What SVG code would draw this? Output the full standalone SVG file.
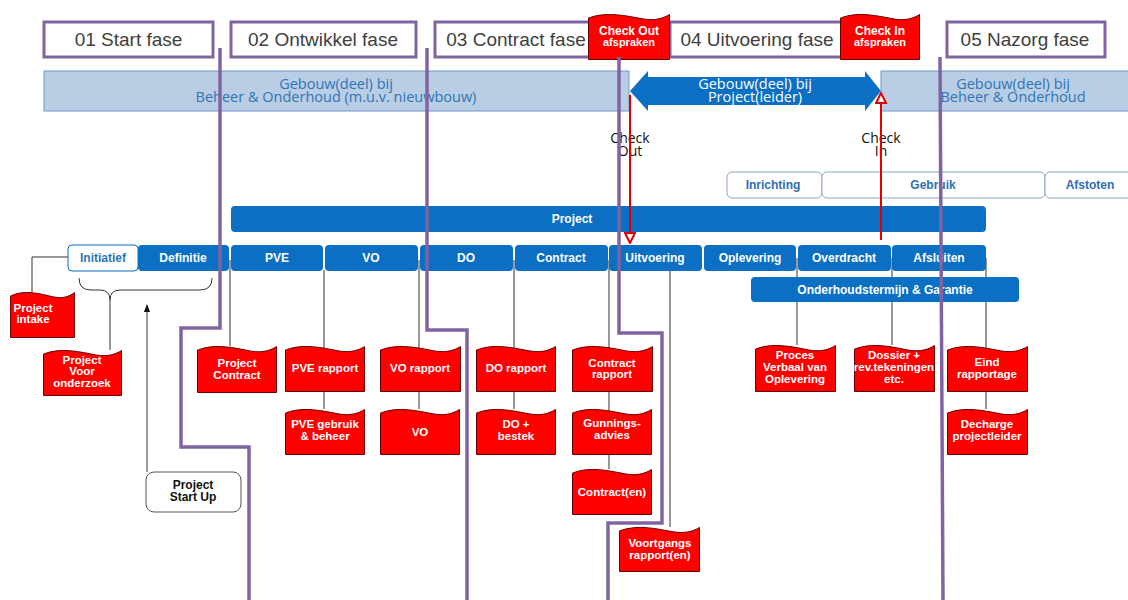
<svg xmlns="http://www.w3.org/2000/svg" xmlns:xlink="http://www.w3.org/1999/xlink" width="1128" height="600" viewBox="0 0 1128 600">
<style>
.phase{fill:#fff;stroke:#8064a2;stroke-width:3}
.phaseT{font-family:"Liberation Sans",Arial,sans-serif;font-size:19px;fill:#404040;text-anchor:middle}
.bar{fill:#b9cde5;stroke:#6d9ac9;stroke-width:1}
.barT{font-family:"Open Sans","DejaVu Sans",sans-serif;font-size:14.5px;fill:#2e75b6;text-anchor:middle}
.arrT{font-family:"Open Sans","DejaVu Sans",sans-serif;font-size:14.5px;fill:#fff;text-anchor:middle}
.chk{font-family:"Open Sans","DejaVu Sans",sans-serif;font-size:14px;fill:#111;text-anchor:middle}
.life{fill:#fff;stroke:#8aa6c8;stroke-width:1}
.lifeT{font-family:"Liberation Sans",Arial,sans-serif;font-size:12px;font-weight:bold;fill:#2f6eaf;text-anchor:middle}
.blue{fill:#0b6fc3}
.stT{font-family:"Liberation Sans",Arial,sans-serif;font-size:12px;font-weight:bold;fill:#fff;text-anchor:middle}
.flagT{font-family:"Liberation Sans",Arial,sans-serif;font-size:11.5px;font-weight:bold;fill:#fff;text-anchor:middle}
.conn{fill:none;stroke:#333;stroke-width:1}
.red{fill:none;stroke:#e00000;stroke-width:2}
.purple{fill:none;stroke:#8064a2;stroke-width:3.5}
.suT{font-family:"Liberation Sans",Arial,sans-serif;font-size:12px;font-weight:bold;fill:#111;text-anchor:middle}
</style>
<defs>
<symbol id="flag" viewBox="0 0 80 47" preserveAspectRatio="none">
<path d="M0.5,5 C18,-2 38,3 54,6 C66,8 74,5 79.5,1.5 L79.5,46.5 L0.5,46.5 Z" fill="#ff0000" stroke="#6a0000" stroke-width="1" vector-effect="non-scaling-stroke"/>
</symbol>
<marker id="openTri" viewBox="0 0 12 12" refX="11" refY="6" markerWidth="12" markerHeight="12" markerUnits="userSpaceOnUse" orient="auto">
<path d="M1,1 L11,6 L1,11 Z" fill="#fff" stroke="#e00000" stroke-width="2"/>
</marker>
<marker id="blackTri" viewBox="0 0 10 10" refX="9" refY="5" markerWidth="8" markerHeight="8" markerUnits="userSpaceOnUse" orient="auto">
<path d="M0,1 L10,5 L0,9 Z" fill="#111"/>
</marker>
</defs>
<rect width="1128" height="600" fill="#fff"/>

<g id="phase01"><rect class="phase" x="44" y="22" width="169" height="35"/><text class="phaseT" x="128.5" y="46">01 Start fase</text></g>
<g id="phase02"><rect class="phase" x="231" y="22" width="185" height="35"/><text class="phaseT" x="323" y="46">02 Ontwikkel fase</text></g>
<g id="phase03"><rect class="phase" x="435" y="22" width="165" height="35"/><text class="phaseT" x="516" y="46">03 Contract fase</text></g>
<g id="phase04"><rect class="phase" x="670" y="22" width="177" height="35"/><text class="phaseT" x="757" y="46">04 Uitvoering fase</text></g>
<g id="phase05"><rect class="phase" x="947" y="22" width="158" height="35"/><text class="phaseT" x="1025" y="46">05 Nazorg fase</text></g>

<g id="checkOutAfspraken"><use xlink:href="#flag" x="588" y="13" width="82" height="47"/><text class="stT" x="629" y="35">Check Out</text><text class="flagT" x="629" y="46" style="font-size:11px">afspraken</text></g>
<g id="checkInAfspraken"><use xlink:href="#flag" x="840" y="13" width="80" height="47"/><text class="stT" x="880" y="35">Check In</text><text class="flagT" x="880" y="46" style="font-size:11px">afspraken</text></g>

<g id="beheerLinks"><rect class="bar" x="44" y="71" width="585" height="40"/><text class="barT" x="336" y="89">Gebouw(deel) bij</text><text class="barT" x="336" y="102">Beheer &amp; Onderhoud (m.u.v. nieuwbouw)</text></g>
<g id="projectleider"><path class="blue" d="M630,91 L648,71 L648,77 L865,77 L865,71 L881,91 L865,111 L865,105 L648,105 L648,111 Z"/><text class="arrT" x="755" y="89">Gebouw(deel) bij</text><text class="arrT" x="755" y="102">Project(leider)</text></g>
<g id="beheerRechts"><rect class="bar" x="881" y="71" width="252" height="40"/><text class="barT" x="1013" y="89">Gebouw(deel) bij</text><text class="barT" x="1013" y="102">Beheer &amp; Onderhoud</text></g>

<g id="checkOutLabel"><text class="chk" x="630" y="143">Check</text><text class="chk" x="630" y="156">Out</text></g>
<g id="checkInLabel"><text class="chk" x="881" y="143">Check</text><text class="chk" x="881" y="156">In</text></g>

<g id="inrichting"><rect class="life" x="727" y="172" width="95" height="26" rx="5"/><text class="lifeT" x="773" y="189">Inrichting</text></g>
<g id="gebruik"><rect class="life" x="822" y="172" width="223" height="26" rx="5"/><text class="lifeT" x="933" y="189">Gebruik</text></g>
<g id="afstoten"><rect class="life" x="1045" y="172" width="92" height="26" rx="5"/><text class="lifeT" x="1090" y="189">Afstoten</text></g>

<g id="connectors">
<path class="conn" d="M68,257 H32 V292"/>
<path class="conn" d="M79,278 Q79,290 91,290 L100,290 Q110,290 110,300 Q110,290 120,290 L200,290 Q212,290 212,278"/>
<path class="conn" d="M110,300 V350"/>
<path class="conn" d="M147,472 V305" marker-end="url(#blackTri)"/>
<path class="conn" d="M230,260 V346"/>
<path class="conn" d="M324,270 V409"/>
<path class="conn" d="M419,260 V409"/>
<path class="conn" d="M514,260 V409"/>
<path class="conn" d="M609,260 V469"/>
<path class="conn" d="M670,270 V527"/>
<path class="conn" d="M797,258 V345"/>
<path class="conn" d="M892,258 V345"/>
<path class="conn" d="M986,258 V409"/>
</g>

<g id="projectBar"><rect class="blue" x="231" y="206" width="755" height="26" rx="4"/><text class="stT" x="572" y="223">Project</text></g>
<g id="initiatief"><rect x="68" y="245" width="70" height="26" rx="4" fill="#fff" stroke="#0b6fc3" stroke-width="1"/><text class="stT" x="103" y="262" style="fill:#2e75b6">Initiatief</text></g>
<g id="definitie"><rect class="blue" x="138" y="245" width="91" height="26" rx="4"/><text class="stT" x="183" y="262">Definitie</text></g>
<g id="pve"><rect class="blue" x="231" y="245" width="92" height="26" rx="4"/><text class="stT" x="277" y="262">PVE</text></g>
<g id="vo"><rect class="blue" x="325" y="245" width="93" height="26" rx="4"/><text class="stT" x="371" y="262">VO</text></g>
<g id="do"><rect class="blue" x="420" y="245" width="93" height="26" rx="4"/><text class="stT" x="466" y="262">DO</text></g>
<g id="contract"><rect class="blue" x="515" y="245" width="93" height="26" rx="4"/><text class="stT" x="561" y="262">Contract</text></g>
<g id="uitvoering"><rect class="blue" x="609" y="245" width="93" height="26" rx="4"/><text class="stT" x="655" y="262">Uitvoering</text></g>
<g id="oplevering"><rect class="blue" x="704" y="245" width="92" height="26" rx="4"/><text class="stT" x="750" y="262">Oplevering</text></g>
<g id="overdracht"><rect class="blue" x="798" y="245" width="93" height="26" rx="4"/><text class="stT" x="844" y="262">Overdracht</text></g>
<g id="afsluiten"><rect class="blue" x="892" y="245" width="94" height="26" rx="4"/><text class="stT" x="939" y="262">Afsluiten</text></g>
<g id="onderhoud"><rect class="blue" x="751" y="277" width="268" height="25" rx="4"/><text class="stT" x="885" y="294">Onderhoudstermijn &amp; Garantie</text></g>

<g id="projectIntake"><use xlink:href="#flag" x="10" y="291" width="65" height="47"/><text class="flagT" x="33" y="312">Project</text><text class="flagT" x="33" y="323">intake</text></g>
<g id="projectVooronderzoek"><use xlink:href="#flag" x="43" y="349" width="79" height="47"/><text class="flagT" x="82" y="364">Project</text><text class="flagT" x="82" y="375">Voor</text><text class="flagT" x="82" y="387">onderzoek</text></g>
<g id="projectStartUp"><rect x="146" y="472" width="95" height="40" rx="8" fill="#fff" stroke="#555" stroke-width="1"/><text class="suT" x="193" y="489">Project</text><text class="suT" x="193" y="501">Start Up</text></g>
<g id="projectContract"><use xlink:href="#flag" x="197" y="345" width="80" height="48"/><text class="flagT" x="237" y="367">Project</text><text class="flagT" x="237" y="379">Contract</text></g>
<g id="pveRapport"><use xlink:href="#flag" x="285" y="345" width="80" height="47"/><text class="flagT" x="325" y="372">PVE rapport</text></g>
<g id="pveGebruik"><use xlink:href="#flag" x="285" y="408" width="80" height="47"/><text class="flagT" x="325" y="428">PVE gebruik</text><text class="flagT" x="325" y="440">&amp; beheer</text></g>
<g id="voRapport"><use xlink:href="#flag" x="380" y="345" width="81" height="47"/><text class="flagT" x="420" y="372">VO rapport</text></g>
<g id="voDoc"><use xlink:href="#flag" x="380" y="408" width="80" height="47"/><text class="flagT" x="420" y="436">VO</text></g>
<g id="doRapport"><use xlink:href="#flag" x="476" y="345" width="80" height="47"/><text class="flagT" x="516" y="372">DO rapport</text></g>
<g id="doBestek"><use xlink:href="#flag" x="476" y="408" width="80" height="47"/><text class="flagT" x="516" y="428">DO +</text><text class="flagT" x="516" y="440">bestek</text></g>
<g id="contractRapport"><use xlink:href="#flag" x="572" y="345" width="81" height="47"/><text class="flagT" x="612" y="367">Contract</text><text class="flagT" x="612" y="378">rapport</text></g>
<g id="gunningsadvies"><use xlink:href="#flag" x="572" y="408" width="80" height="47"/><text class="flagT" x="612" y="427">Gunnings-</text><text class="flagT" x="612" y="439">advies</text></g>
<g id="contracten"><use xlink:href="#flag" x="572" y="468" width="80" height="47"/><text class="flagT" x="612" y="496">Contract(en)</text></g>
<g id="voortgangsrapport"><use xlink:href="#flag" x="619" y="526" width="81" height="46"/><text class="flagT" x="660" y="547">Voortgangs</text><text class="flagT" x="660" y="559">rapport(en)</text></g>
<g id="procesVerbaal"><use xlink:href="#flag" x="755" y="344" width="81" height="48"/><text class="flagT" x="795" y="359">Proces</text><text class="flagT" x="795" y="371">Verbaal van</text><text class="flagT" x="795" y="383">Oplevering</text></g>
<g id="dossier"><use xlink:href="#flag" x="854" y="344" width="81" height="48"/><text class="flagT" x="894" y="359">Dossier +</text><text class="flagT" x="894" y="371">rev.tekeningen</text><text class="flagT" x="894" y="383">etc.</text></g>
<g id="eindRapportage"><use xlink:href="#flag" x="947" y="345" width="81" height="47"/><text class="flagT" x="987" y="366">Eind</text><text class="flagT" x="987" y="378">rapportage</text></g>
<g id="decharge"><use xlink:href="#flag" x="947" y="408" width="81" height="47"/><text class="flagT" x="987" y="428">Decharge</text><text class="flagT" x="987" y="440">projectleider</text></g>

<g id="checkLines">
<path class="red" d="M630,95 V243" marker-end="url(#openTri)"/>
<path class="red" d="M881,240 V93" marker-end="url(#openTri)"/>
</g>

<g id="phaseDividers">
<path class="purple" d="M220,48 V328 H181 V447 H249 V600"/>
<path class="purple" d="M427,48 V330 H467 V600"/>
<path class="purple" d="M619,57 V333 H662 V523 H608 V600"/>
<path class="purple" d="M940,57 L943,600"/>
</g>
</svg>
